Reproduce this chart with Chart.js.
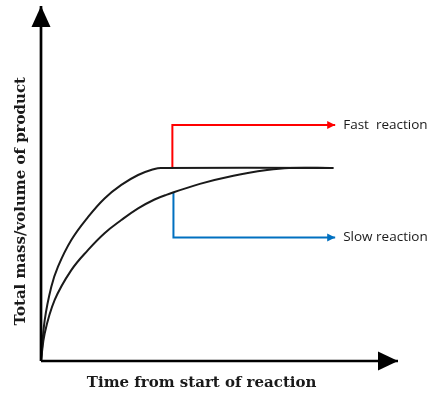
<!DOCTYPE html>
<html>
<head>
<meta charset="utf-8">
<script src="https://cdn.jsdelivr.net/npm/chart.js@4/dist/chart.umd.min.js"></script>
<style>
  html, body { margin: 0; padding: 0; background: #fff; }
</style>
</head>
<body>
<canvas id="chart" width="439" height="396"></canvas>
<script>
/*
Rate of reaction sketch: product formed against time
*/

// curve data (time / amount, arbitrary units 0-100)
const fastTime = [0, 1.04, 2.89, 4.76, 8.49, 13.2, 17.8, 22.5, 27.2, 31.8, 33.6, 81.9];
const fastMass = [0, 11.5, 20.9, 26.6, 34.1, 40.6, 45.8, 49.6, 52.4, 54.1, 54.4, 54.4];

const slowTime = [0, 1.04, 3.84, 8.49, 13.2, 17.8, 22.5, 27.2, 31.8, 35.1, 44.5, 53.9, 63.3, 69.5, 81.9];
const slowMass = [0, 7.8, 17.2, 25.6, 31.3, 36.0, 39.7, 43.0, 45.5, 46.8, 49.9, 52.2, 53.8, 54.4, 54.4];

// label pointers: [from curve, corner, tip]
const fastPointerX = [36.8, 36.8, 82.4];
const fastPointerY = [54.4, 66.5, 66.5];
const slowPointerX = [37.1, 37.1, 82.4];
const slowPointerY = [47.4, 34.8, 34.8];

// axes extent
const axisMax = 100;

// text
const pointerLabels = ['Fast  reaction', 'Slow reaction'];
const xTitle = 'Time from start of reaction';
const yTitle = 'Total mass/volume of product';


const toPoints = (xs, ys) => xs.map((x, i) => ({ x, y: ys[i] }));

const lineSet = (data, color, width, extra) => Object.assign({
  data,
  showLine: true,
  borderColor: color,
  backgroundColor: color,
  borderWidth: width,
  pointRadius: 0,
  pointHoverRadius: 0,
  fill: false,
  clip: false
}, extra || {});


// arrowheads at the last point of a dataset
const arrowHeads = {
  id: 'arrowHeads',
  afterDatasetsDraw(chart) {
    const ctx = chart.ctx;
    chart.data.datasets.forEach((ds, i) => {
      if (!ds.arrow) return;
      const pts = chart.getDatasetMeta(i).data;
      const a = pts[pts.length - 2], b = pts[pts.length - 1];
      const ang = Math.atan2(b.y - a.y, b.x - a.x);
      const len = ds.arrow.length, half = ds.arrow.width / 2;
      ctx.save();
      ctx.translate(b.x, b.y);
      ctx.rotate(ang);
      ctx.fillStyle = ds.borderColor;
      ctx.beginPath();
      ctx.moveTo(0, 0);
      ctx.lineTo(-len, -half);
      ctx.lineTo(-len, half);
      ctx.closePath();
      ctx.fill();
      ctx.restore();
    });
  }
};

// axis titles and pointer labels
const sketchText = {
  id: 'sketchText',
  afterDraw(chart) {
    const ctx = chart.ctx, x = chart.scales.x, y = chart.scales.y, area = chart.chartArea;
    ctx.save();
    ctx.fillStyle = '#1a1a1a';
    ctx.textBaseline = 'middle';

    // pointer labels
    ctx.font = '13.5px "Open Sans"';
    ctx.textAlign = 'left';
    ctx.fillText(pointerLabels[0], x.getPixelForValue(fastPointerX[2]) + 8, y.getPixelForValue(fastPointerY[2]));
    ctx.fillText(pointerLabels[1], x.getPixelForValue(slowPointerX[2]) + 8, y.getPixelForValue(slowPointerY[2]));

    // axis titles
    ctx.font = 'bold 15px "DejaVu Serif"';
    ctx.textAlign = 'center';
    ctx.fillText(xTitle, x.getPixelForValue(45), area.bottom + 22);

    ctx.translate(area.left - 20, y.getPixelForValue(45));
    ctx.rotate(-Math.PI / 2);
    ctx.fillText(yTitle, 0, 0);
    ctx.restore();
  }
};


new Chart(document.getElementById('chart'), {
  type: 'scatter',
  data: {
    datasets: [
      lineSet(toPoints([0, axisMax], [0, 0]), '#000', 2.7, { arrow: { length: 20, width: 19 } }),
      lineSet(toPoints([0, 0], [0, axisMax]), '#000', 2.7, { arrow: { length: 21, width: 19 } }),
      lineSet(toPoints(fastTime, fastMass), '#1a1a1a', 2, { tension: 0.4 }),
      lineSet(toPoints(slowTime, slowMass), '#1a1a1a', 2, { tension: 0.4 }),
      lineSet(toPoints(fastPointerX, fastPointerY), '#ff0000', 2, { arrow: { length: 8, width: 8 } }),
      lineSet(toPoints(slowPointerX, slowPointerY), '#0070c0', 2, { arrow: { length: 8, width: 8 } })
    ]
  },
  options: {
    responsive: false,
    animation: false,
    devicePixelRatio: 1,
    events: [],
    layout: { padding: { left: 41, right: 41, top: 6, bottom: 35 } },
    scales: {
      x: { type: 'linear', display: false, min: 0, max: axisMax },
      y: { type: 'linear', display: false, min: 0, max: axisMax }
    },
    plugins: {
      legend: { display: false },
      tooltip: { enabled: false }
    }
  },
  plugins: [arrowHeads, sketchText]
});
</script>
</body>
</html>
